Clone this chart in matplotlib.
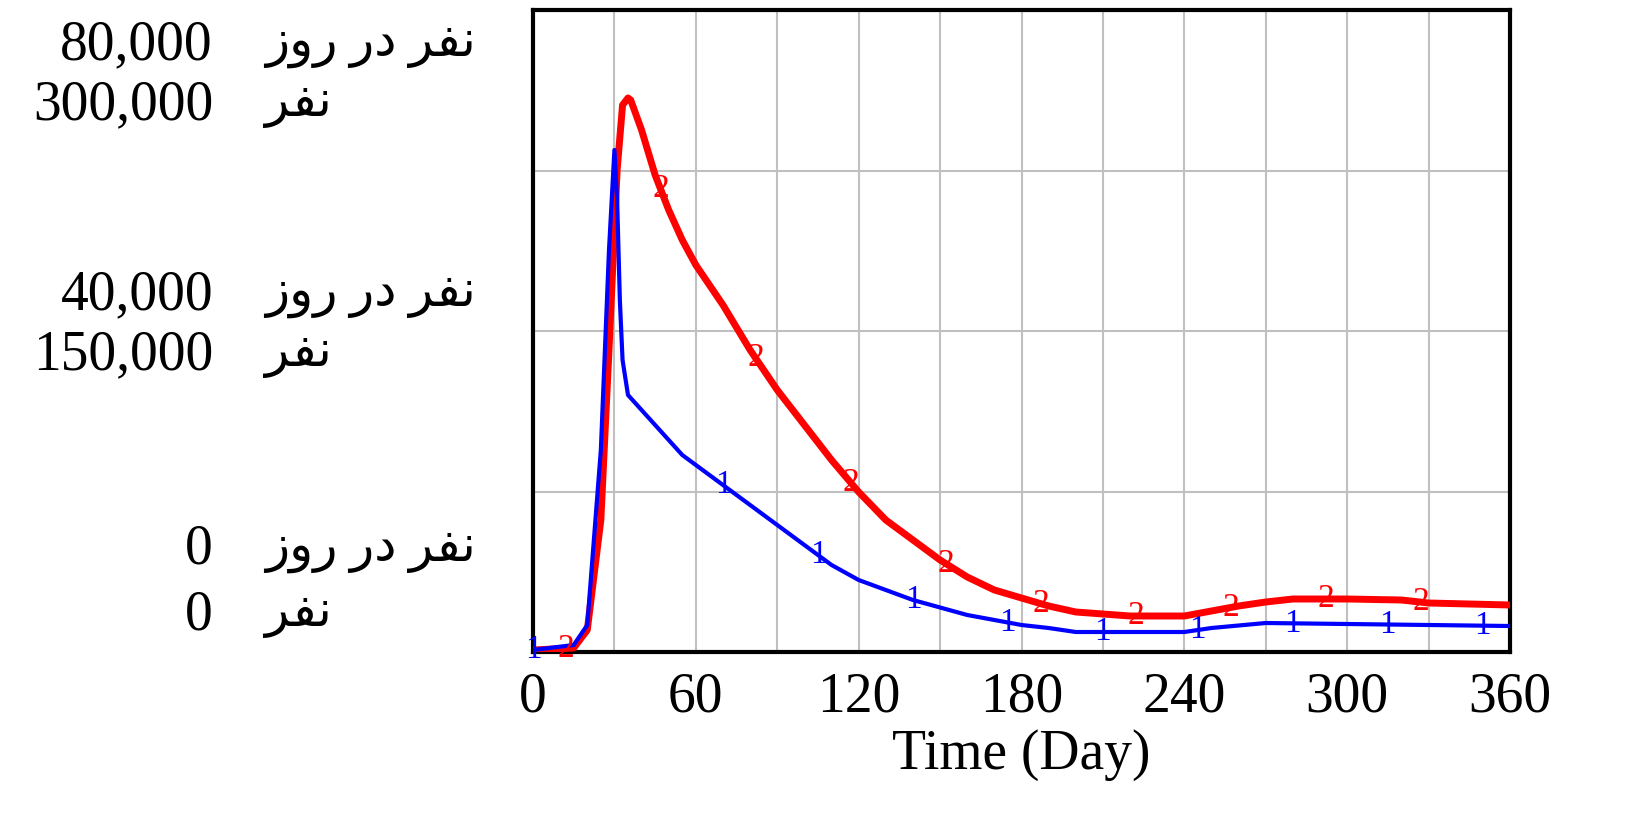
import matplotlib
matplotlib.use("Agg")
import matplotlib.pyplot as plt
import numpy as np

blue_days = [0,15,20,25,28,30,31,32,33,35,40,50,55,60,70,80,90,100,110,120,140,160,180,190,200,240,250,270,360]
blue_px = [650,645,625,450,250,150,200,300,360,395,410,440,455,465,485,505,525,545,565,580,600,615,625,628,632,632,628,623,626]
red_days = [0,15,20,25,28,31,33,35,36,40,45,50,55,60,70,80,90,100,110,120,130,140,150,160,170,180,190,200,220,240,250,260,270,280,300,320,330,360]
red_px = [650,648,630,520,350,170,105,98,100,130,175,210,240,265,305,350,390,425,460,492,520,540,560,577,590,598,606,612,616,616,611,606,602,599,599,600,603,605]
blue = [(652-p)/642 for p in blue_px]
red = [(652-p)/642 for p in red_px]
blue_marks = [0,70,105,140,175,210,245,280,315,350]
red_marks = [12,47,82,117,152,187,222,257,292,327]
left_labels = [("80,000", "ﺯﻭﺭ ﺭﺩ ﺮﻔﻧ", 45), ("300,000", "ﺮﻔﻧ", 105),
               ("40,000", "ﺯﻭﺭ ﺭﺩ ﺮﻔﻧ", 295), ("150,000", "ﺮﻔﻧ", 355),
               ("0", "ﺯﻭﺭ ﺭﺩ ﺮﻔﻧ", 550), ("0", "ﺮﻔﻧ", 615)]

fam = ['Liberation Serif', 'DejaVu Sans']
fig = plt.figure(figsize=(16.5, 8.4), dpi=100)
ax = fig.add_axes([533/1650, 188/840, 977/1650, 642/840])
ax.plot(red_days, red, color='red', lw=5, zorder=3)
ax.plot(blue_days, blue, color='blue', lw=3, zorder=4)
for d in red_marks:
    ax.text(d, np.interp(d, red_days, red), "2", color='red', fontsize=24, ha='center', va='center', family=fam, zorder=5)
for d in blue_marks:
    ax.text(d, np.interp(d, blue_days, blue), "1", color='blue', fontsize=24, ha='center', va='center', family=fam, zorder=5)
ax.set_xlim(0, 360)
ax.set_ylim(0, 1)
ax.set_xticks(range(0, 361, 30))
ax.set_xticklabels([str(v) if v % 60 == 0 else "" for v in range(0, 361, 30)], family=fam, fontsize=40)
ax.set_yticks([0.25, 0.5, 0.75])
ax.set_yticklabels([])
ax.tick_params(length=0, pad=14)
ax.grid(True, color='#c0c0c0', lw=1.5)
for s in ax.spines.values():
    s.set_linewidth(3)
ax.set_xlabel("Time (Day)", family=fam, fontsize=40, labelpad=4)
for num, per, y in left_labels:
    fig.text(213/1650, 1 - y/840, num, ha='right', va='center', family=fam, fontsize=40)
    fig.text(265/1650, 1 - y/840, per, ha='left', va='center', family=fam, fontsize=36)
fig.savefig("out.png", dpi=100)
